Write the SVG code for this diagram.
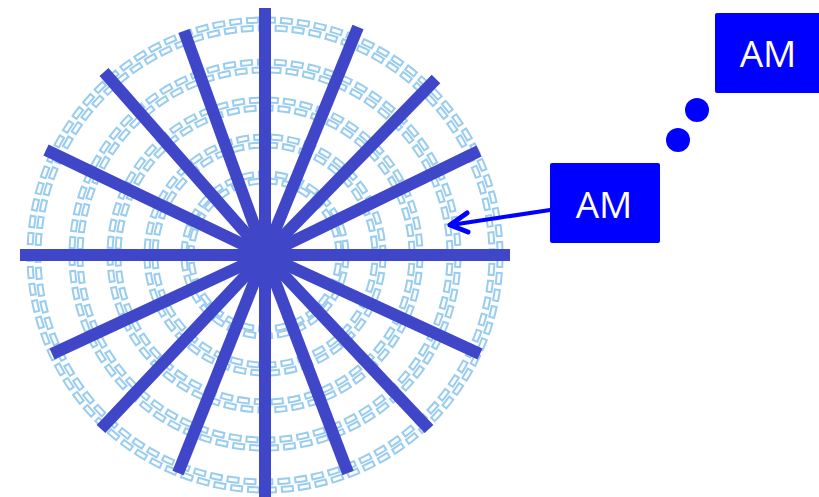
<svg xmlns="http://www.w3.org/2000/svg" width="819" height="497" viewBox="0 0 819 497">
<style>
.ringA{fill:none;stroke:#8ec8ee;stroke-width:7;stroke-dasharray:13 4;opacity:0.9}
.ringB{fill:none;stroke:#ffffff;stroke-width:3;stroke-dasharray:9 8;stroke-dashoffset:-2}
.ringC{fill:none;stroke:#8ec8ee;stroke-width:7;stroke-dasharray:13 4;stroke-dashoffset:-8;opacity:0.9}
.ringD{fill:none;stroke:#ffffff;stroke-width:3;stroke-dasharray:9 8;stroke-dashoffset:-10}
.spoke{stroke:#4046c8;stroke-width:12;stroke-linecap:butt}
.box{fill:#0000ff}
.lbl{font-family:"Open Sans","Liberation Sans",sans-serif;font-size:37px;fill:#ffffff;text-anchor:middle}
.dot{fill:#0000ff}
</style>
<g id="rings">
<circle class="ringA" cx="265" cy="255" r="235"/><circle class="ringB" cx="265" cy="255" r="235"/>
<circle class="ringC" cx="265" cy="255" r="227"/><circle class="ringD" cx="265" cy="255" r="227"/>
<circle class="ringA" cx="265" cy="255" r="193"/><circle class="ringB" cx="265" cy="255" r="193"/>
<circle class="ringC" cx="265" cy="255" r="185"/><circle class="ringD" cx="265" cy="255" r="185"/>
<circle class="ringA" cx="265" cy="255" r="155"/><circle class="ringB" cx="265" cy="255" r="155"/>
<circle class="ringC" cx="265" cy="255" r="147"/><circle class="ringD" cx="265" cy="255" r="147"/>
<circle class="ringA" cx="265" cy="255" r="118"/><circle class="ringB" cx="265" cy="255" r="118"/>
<circle class="ringC" cx="265" cy="255" r="110"/><circle class="ringD" cx="265" cy="255" r="110"/>
<circle class="ringA" cx="265" cy="255" r="81"/><circle class="ringB" cx="265" cy="255" r="81"/>
<circle class="ringC" cx="265" cy="255" r="74"/><circle class="ringD" cx="265" cy="255" r="74"/>
</g>
<g id="wheel">
<line class="spoke" x1="265" y1="255" x2="20" y2="255"/>
<line class="spoke" x1="265" y1="255" x2="510" y2="255"/>
<line class="spoke" x1="265" y1="255" x2="265" y2="8"/>
<line class="spoke" x1="265" y1="255" x2="265" y2="497"/>
<line class="spoke" x1="265" y1="255" x2="184" y2="31"/>
<line class="spoke" x1="265" y1="255" x2="104" y2="72"/>
<line class="spoke" x1="265" y1="255" x2="46" y2="150"/>
<line class="spoke" x1="265" y1="255" x2="358" y2="27"/>
<line class="spoke" x1="265" y1="255" x2="436" y2="79"/>
<line class="spoke" x1="265" y1="255" x2="479" y2="151"/>
<line class="spoke" x1="265" y1="255" x2="52" y2="354"/>
<line class="spoke" x1="265" y1="255" x2="101" y2="429"/>
<line class="spoke" x1="265" y1="255" x2="178" y2="473"/>
<line class="spoke" x1="265" y1="255" x2="480" y2="354"/>
<line class="spoke" x1="265" y1="255" x2="429" y2="429"/>
<line class="spoke" x1="265" y1="255" x2="348" y2="473"/>
<circle cx="265" cy="255" r="26" fill="#4046c8"/>
</g>
<g id="connectors">
<line x1="550" y1="210" x2="451" y2="225" stroke="#0000ff" stroke-width="4" stroke-linecap="round"/>
<polyline points="467,213 450,225 468,232" fill="none" stroke="#0000ff" stroke-width="5" stroke-linecap="round" stroke-linejoin="round"/>
<circle class="dot" cx="697" cy="110" r="12"/>
<circle class="dot" cx="678" cy="140" r="12"/>
</g>
<g id="node1">
<rect class="box" x="550" y="163" width="110" height="80" rx="2"/>
<text class="lbl" x="604" y="218">AM</text>
</g>
<g id="node2">
<rect class="box" x="715" y="13" width="106" height="80" rx="2"/>
<text class="lbl" x="768" y="67">AM</text>
</g>
</svg>
